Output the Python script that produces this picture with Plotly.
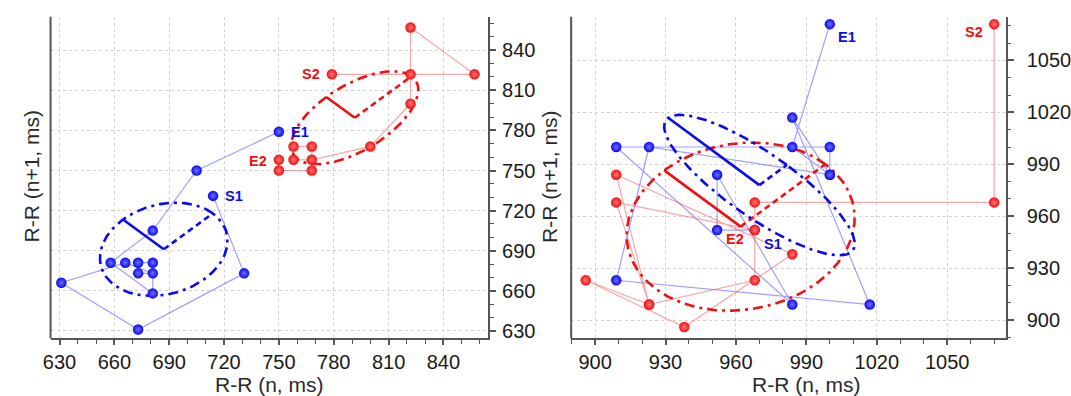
import numpy as np
import plotly.graph_objects as go

W, H = 1071, 396

# ---------------- data ----------------
# Left panel (Poincaré plot 1)
left_blue_x = [714, 731, 673, 631, 666, 681, 673, 673, 681, 681, 658, 681, 705, 750]
left_blue_y = [731, 673, 631, 666, 681, 673, 673, 681, 681, 658, 681, 705, 750, 779]
left_red_x = [779, 822, 857, 822, 822, 800, 768, 758, 758, 768, 768, 750, 750]
left_red_y = [822, 822, 822, 857, 800, 768, 758, 758, 768, 768, 750, 750, 758]

# Right panel (Poincaré plot 2)
right_blue_x = [968, 952, 952, 984, 909, 1000, 1000, 984, 1017, 909, 923, 1000, 984, 1000]
right_blue_y = [952, 952, 984, 909, 1000, 1000, 984, 1017, 909, 923, 1000, 984, 1000, 1071]
right_red_x = [1070, 1070, 968, 968, 923, 909, 984, 938, 896, 923, 909, 968]
right_red_y = [1071, 968, 968, 923, 909, 984, 938, 896, 923, 909, 968, 952]

# Ellipse fits: centre x, centre y, SD1 (across identity), SD2 (along identity)
left_blue_ell = [687, 691, 31.5, 38]
left_red_ell = [791.5, 789.5, 22, 44]
right_blue_ell = [970, 978, 55, 16.5]
right_red_ell = [962, 954, 46, 51]

left_xticks = [630, 660, 690, 720, 750, 780, 810, 840]
left_yticks = [630, 660, 690, 720, 750, 780, 810, 840]
right_xticks = [900, 930, 960, 990, 1020, 1050]
right_yticks = [900, 930, 960, 990, 1020, 1050]

# ---------------- styling ----------------
BLUE = "rgb(10,10,240)"
RED = "rgb(242,15,15)"
BLUE_LINE = "rgba(80,80,255,0.55)"
RED_LINE = "rgba(245,80,80,0.5)"
AXC = "#555555"
FONT = "Arial, Liberation Sans, sans-serif"

fig = go.Figure()


def path(x, y, lc, xa, ya):
    fig.add_trace(go.Scatter(
        x=x, y=y, mode="lines", xaxis=xa, yaxis=ya,
        line=dict(color=lc, width=1.2), hoverinfo="skip", showlegend=False))


def markers(x, y, mc, hl, xa, ya):
    fig.add_trace(go.Scatter(
        x=x, y=y, mode="markers", xaxis=xa, yaxis=ya,
        marker=dict(size=10.5, color=mc, line=dict(width=0),
                    gradient=dict(type="radial", color=hl)),
        hoverinfo="skip", showlegend=False))


def ellipse(p, col, xa, ya):
    cx, cy, sd1, sd2 = p
    t = np.linspace(0, 2 * np.pi, 241)
    c = np.cos(np.pi / 4)
    ex = cx + sd2 * np.cos(t) * c - sd1 * np.sin(t) * c
    ey = cy + sd2 * np.cos(t) * c + sd1 * np.sin(t) * c
    fig.add_trace(go.Scatter(
        x=ex, y=ey, mode="lines", xaxis=xa, yaxis=ya,
        line=dict(color=col, width=2.6, dash="10px,5px,3px,5px"),
        hoverinfo="skip", showlegend=False))
    # SD1 (solid, towards upper-left) and SD2 (dashed, towards upper-right)
    fig.add_trace(go.Scatter(
        x=[cx - sd1 * c, cx], y=[cy + sd1 * c, cy], mode="lines", xaxis=xa, yaxis=ya,
        line=dict(color=col, width=2.6), hoverinfo="skip", showlegend=False))
    fig.add_trace(go.Scatter(
        x=[cx, cx + sd2 * c], y=[cy, cy + sd2 * c], mode="lines", xaxis=xa, yaxis=ya,
        line=dict(color=col, width=2.6, dash="6px,4px"),
        hoverinfo="skip", showlegend=False))


# left panel
path(left_blue_x, left_blue_y, BLUE_LINE, "x", "y")
path(left_red_x, left_red_y, RED_LINE, "x", "y")
ellipse(left_blue_ell, BLUE, "x", "y")
ellipse(left_red_ell, RED, "x", "y")
markers(left_blue_x, left_blue_y, BLUE, "rgb(110,110,255)", "x", "y")
markers(left_red_x, left_red_y, RED, "rgb(255,120,120)", "x", "y")

# right panel
path(right_blue_x, right_blue_y, BLUE_LINE, "x2", "y2")
path(right_red_x, right_red_y, RED_LINE, "x2", "y2")
ellipse(right_red_ell, RED, "x2", "y2")
ellipse(right_blue_ell, BLUE, "x2", "y2")
markers(right_blue_x, right_blue_y, BLUE, "rgb(110,110,255)", "x2", "y2")
markers(right_red_x, right_red_y, RED, "rgb(255,120,120)", "x2", "y2")


def axis_common(rng, ticks, dom, side=None, standoff=3, ticklen=6):
    d = dict(
        domain=dom, range=rng, tickvals=ticks, ticktext=[str(v) for v in ticks],
        showgrid=True, gridcolor="#d2d2d2", griddash="dot", gridwidth=1.4,
        zeroline=False, showline=True, linecolor=AXC, linewidth=2,
        ticks="outside", ticklen=ticklen, tickwidth=1.5, tickcolor=AXC,
        minor=dict(dtick=10, tick0=0, ticks="outside", ticklen=3.5, tickwidth=1.3,
                   tickcolor=AXC, showgrid=False),
        tickfont=dict(family=FONT, size=20, color="#1a1a1a"),
        ticklabelstandoff=standoff,
    )
    if side:
        d["side"] = side
    return d


ydom = [1 - 341 / H, 1 - 17 / H]
fig.update_layout(
    width=W, height=H,
    margin=dict(l=0, r=0, t=0, b=0),
    paper_bgcolor="white", plot_bgcolor="white",
    xaxis=axis_common([625.1, 864.4], left_xticks, [43 / W, 485 / W], standoff=0, ticklen=5) | dict(anchor="y"),
    yaxis=axis_common([624.3, 865.0], left_yticks, ydom, side="right", standoff=2) | dict(anchor="x"),
    xaxis2=axis_common([889.8, 1074.9], right_xticks, [569 / W, 1008 / W], standoff=0, ticklen=5) | dict(anchor="y2"),
    yaxis2=axis_common([889.4, 1075.2], right_yticks, ydom, side="right", standoff=9) | dict(anchor="x2"),
)

# left axis lines (no ticks)
for xr, yr in (("x domain", "y domain"), ("x2 domain", "y2 domain")):
    fig.add_shape(type="line", xref=xr, yref=yr, x0=0, x1=0, y0=0, y1=1,
                  line=dict(color=AXC, width=2))

# axis titles
tfont = dict(family=FONT, size=21, color="#2a2a2a")
fig.add_annotation(text="R-R (n, ms)", xref="paper", yref="paper", x=264 / W, y=1 - 387.5 / H,
                   showarrow=False, font=tfont, xanchor="center", yanchor="middle")
fig.add_annotation(text="R-R (n, ms)", xref="paper", yref="paper", x=807 / W, y=1 - 387.5 / H,
                   showarrow=False, font=tfont, xanchor="center", yanchor="middle")
fig.add_annotation(text="R-R (n+1, ms)", xref="paper", yref="paper", x=24 / W, y=1 - 178 / H,
                   showarrow=False, font=tfont, textangle=-90, xanchor="center", yanchor="middle")
fig.add_annotation(text="R-R (n+1, ms)", xref="paper", yref="paper", x=547 / W, y=1 - 178 / H,
                   showarrow=False, font=tfont, textangle=-90, xanchor="center", yanchor="middle")

# start / end labels
lfont_b = dict(family=FONT, size=14.5, color=BLUE)
lfont_r = dict(family=FONT, size=14.5, color=RED)


def label(txt, x, y, xa, ya, font, anchor, dx, dy):
    fig.add_annotation(text="<b>%s</b>" % txt, x=x, y=y, xref=xa, yref=ya, showarrow=False,
                       font=font, xanchor=anchor, yanchor="middle", xshift=dx, yshift=dy)


label("S1", left_blue_x[0], left_blue_y[0], "x", "y", lfont_b, "left", 10, 0)
label("E1", left_blue_x[-1], left_blue_y[-1], "x", "y", lfont_b, "left", 10, 0)
label("S2", left_red_x[0], left_red_y[0], "x", "y", lfont_r, "right", -10, 0)
label("E2", left_red_x[-1], left_red_y[-1], "x", "y", lfont_r, "right", -10, -1)
label("S1", right_blue_x[0], right_blue_y[0], "x2", "y2", lfont_b, "left", 7, -14)
label("E1", right_blue_x[-1], right_blue_y[-1], "x2", "y2", lfont_b, "left", 6, -13)
label("S2", right_red_x[0], right_red_y[0], "x2", "y2", lfont_r, "right", -9, -8)
label("E2", right_red_x[-1], right_red_y[-1], "x2", "y2", lfont_r, "right", -9, -9)

fig.write_html("out.html", config={"displayModeBar": False},
               post_script="document.body.style.margin='0';document.body.style.overflow='hidden';")
